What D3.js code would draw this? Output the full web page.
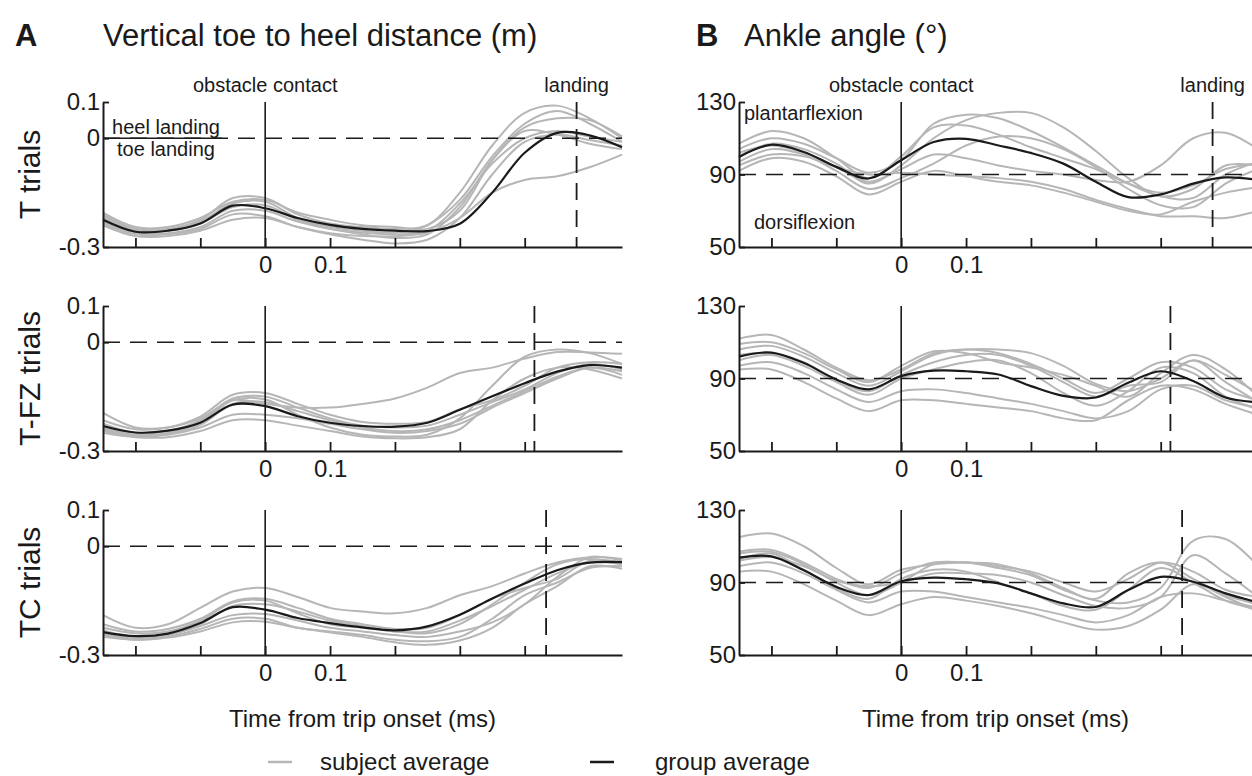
<!DOCTYPE html>
<meta charset="utf-8">

<!-- Load d3.js -->
<script src="https://d3js.org/d3.v7.min.js"></script>

<style>
  body { margin: 0; background: #fff; }
  text { font-family: "Liberation Sans", Arial, Helvetica, sans-serif; fill: #1a1a1a; }
</style>

<div id="my_dataviz"></div>

<script>

    // time axis (s from trip onset), shared by every curve
    var time = [-0.25, -0.2, -0.15, -0.1, -0.05, 0, 0.05, 0.1, 0.15, 0.2, 0.25, 0.3, 0.35, 0.4, 0.45, 0.5, 0.55];

    var rowNames = ["T trials", "T-FZ trials", "TC trials"];
    var landingTimes = [0.48, 0.415, 0.433];

    // A: vertical toe to heel distance (m), subject averages + group average
    var distT = [
      [-0.21, -0.25, -0.25, -0.225, -0.165, -0.165, -0.21, -0.235, -0.245, -0.25, -0.24, -0.15, -0.02, 0.07, 0.09, 0.055, 0.0],
      [-0.205, -0.245, -0.245, -0.22, -0.175, -0.17, -0.205, -0.225, -0.24, -0.245, -0.25, -0.2, -0.06, 0.03, 0.055, 0.05, 0.005],
      [-0.215, -0.25, -0.25, -0.23, -0.18, -0.175, -0.22, -0.245, -0.255, -0.26, -0.24, -0.17, -0.05, 0.04, 0.075, 0.04, -0.01],
      [-0.23, -0.26, -0.262, -0.245, -0.2, -0.2, -0.23, -0.25, -0.26, -0.265, -0.255, -0.18, -0.07, 0.0, 0.02, 0.005, -0.01],
      [-0.235, -0.265, -0.265, -0.25, -0.21, -0.215, -0.245, -0.265, -0.28, -0.29, -0.28, -0.22, -0.1, -0.01, 0.01, -0.005, -0.02],
      [-0.24, -0.27, -0.27, -0.255, -0.225, -0.22, -0.245, -0.262, -0.27, -0.27, -0.26, -0.22, -0.15, -0.115, -0.105, -0.08, -0.045],
      [-0.22, -0.255, -0.255, -0.235, -0.19, -0.185, -0.225, -0.25, -0.265, -0.275, -0.265, -0.19, -0.06, 0.02, 0.01, -0.015, -0.03]
    ];
    var distTMean = [-0.225, -0.258, -0.255, -0.235, -0.186, -0.193, -0.22, -0.239, -0.25, -0.255, -0.256, -0.236, -0.15, -0.04, 0.015, 0.008, -0.025];

    var distTFZ = [
      [-0.195, -0.235, -0.235, -0.21, -0.16, -0.17, -0.18, -0.18, -0.17, -0.155, -0.125, -0.085, -0.07, -0.045, -0.027, -0.028, -0.032],
      [-0.215, -0.24, -0.235, -0.205, -0.145, -0.14, -0.17, -0.2, -0.22, -0.225, -0.22, -0.185, -0.16, -0.12, -0.07, -0.055, -0.06],
      [-0.225, -0.25, -0.245, -0.215, -0.155, -0.15, -0.18, -0.21, -0.23, -0.235, -0.23, -0.2, -0.165, -0.13, -0.085, -0.06, -0.075],
      [-0.235, -0.255, -0.25, -0.22, -0.16, -0.158, -0.2, -0.235, -0.255, -0.26, -0.255, -0.21, -0.12, -0.04, -0.02, -0.03, -0.06],
      [-0.245, -0.26, -0.255, -0.235, -0.2, -0.2, -0.21, -0.225, -0.24, -0.25, -0.245, -0.225, -0.18, -0.14, -0.1, -0.07, -0.08],
      [-0.25, -0.262, -0.262, -0.245, -0.215, -0.215, -0.23, -0.245, -0.26, -0.265, -0.262, -0.24, -0.16, -0.1, -0.07, -0.075, -0.1],
      [-0.24, -0.258, -0.252, -0.228, -0.17, -0.165, -0.19, -0.215, -0.235, -0.245, -0.24, -0.215, -0.175, -0.135, -0.095, -0.07, -0.09]
    ];
    var distTFZMean = [-0.231, -0.249, -0.244, -0.222, -0.172, -0.176, -0.204, -0.222, -0.231, -0.233, -0.222, -0.186, -0.149, -0.113, -0.081, -0.063, -0.07];

    var distTC = [
      [-0.19, -0.225, -0.215, -0.17, -0.125, -0.115, -0.14, -0.17, -0.18, -0.185, -0.17, -0.135, -0.11, -0.075, -0.045, -0.03, -0.035],
      [-0.215, -0.235, -0.228, -0.2, -0.152, -0.145, -0.17, -0.2, -0.215, -0.228, -0.225, -0.19, -0.145, -0.115, -0.09, -0.04, -0.045],
      [-0.225, -0.24, -0.235, -0.205, -0.155, -0.15, -0.185, -0.215, -0.225, -0.235, -0.24, -0.215, -0.16, -0.1, -0.05, -0.035, -0.05],
      [-0.24, -0.255, -0.245, -0.22, -0.19, -0.187, -0.205, -0.225, -0.235, -0.245, -0.25, -0.235, -0.21, -0.16, -0.085, -0.03, -0.04],
      [-0.245, -0.258, -0.25, -0.228, -0.2, -0.2, -0.225, -0.235, -0.245, -0.258, -0.262, -0.25, -0.2, -0.135, -0.1, -0.06, -0.055],
      [-0.25, -0.258, -0.252, -0.235, -0.21, -0.208, -0.225, -0.238, -0.25, -0.265, -0.272, -0.26, -0.225, -0.16, -0.11, -0.055, -0.062],
      [-0.232, -0.25, -0.245, -0.215, -0.165, -0.16, -0.18, -0.205, -0.22, -0.235, -0.235, -0.205, -0.165, -0.12, -0.075, -0.045, -0.05]
    ];
    var distTCMean = [-0.237, -0.248, -0.241, -0.212, -0.168, -0.175, -0.198, -0.212, -0.224, -0.232, -0.221, -0.189, -0.144, -0.103, -0.066, -0.045, -0.044];

    // B: ankle angle (deg)
    var ankleT = [
      [104, 110, 107, 99, 91, 98, 118, 123, 121, 114, 105, 95, 85, 78, 77, 90, 97],
      [100, 107, 104, 96, 85, 95, 110, 120, 124, 124, 116, 103, 88, 78, 82, 95, 95],
      [107, 114, 110, 99, 88, 100, 116, 117, 112, 105, 99, 93, 85, 80, 84, 93, 96],
      [97, 104, 101, 92, 82, 88, 96, 106, 111, 110, 104, 94, 82, 73, 72, 85, 93],
      [92, 99, 97, 89, 79, 86, 92, 89, 86, 84, 80, 75, 70, 68, 75, 80, 83],
      [102, 106, 102, 94, 86, 93, 101, 99, 95, 92, 90, 87, 86, 95, 110, 113, 104],
      [95, 101, 100, 94, 90, 91, 90, 89, 88, 86, 82, 76, 71, 67, 67, 66, 70]
    ];
    var ankleTMean = [99.7, 106.4, 102.4, 94.2, 87.8, 97.9, 107.9, 109.7, 106, 101.9, 96, 86, 77.5, 79, 85, 88.4, 87];

    var ankleTFZ = [
      [112, 114, 106, 96, 89, 95, 104, 106, 106, 104, 97, 87, 83, 90, 100, 92, 82],
      [109, 110, 104, 95, 88, 97, 105, 104, 99, 96, 92, 86, 80, 93, 103, 95, 80],
      [106, 108, 102, 93, 86, 94, 103, 106, 104, 98, 90, 82, 90, 99, 96, 84, 78],
      [103, 104, 99, 89, 83, 92, 99, 103, 103, 97, 88, 80, 86, 88, 100, 88, 77],
      [97, 99, 93, 84, 77, 83, 84, 82, 79, 76, 72, 68, 72, 84, 86, 78, 74],
      [95, 95, 88, 79, 72, 78, 78, 76, 74, 72, 68, 67, 78, 86, 84, 76, 70],
      [100, 103, 97, 88, 81, 90, 95, 99, 100, 93, 82, 75, 83, 96, 93, 80, 73]
    ];
    var ankleTFZMean = [102.1, 104.3, 98.5, 89.5, 84, 91.3, 94.3, 94, 92.2, 85.8, 80.4, 79.5, 87.6, 94, 88.6, 79.5, 76.8];

    var ankleTC = [
      [115, 117, 110, 98, 89, 97, 100, 101, 99, 96, 90, 85, 92, 101, 96, 86, 82],
      [107, 108, 101, 92, 87, 95, 101, 101, 98, 94, 86, 80, 79, 87, 113, 114, 99],
      [106, 107, 100, 90, 83, 90, 100, 101, 100, 95, 87, 81, 95, 101, 92, 83, 78],
      [102, 104, 99, 91, 88, 90, 95, 95, 94, 90, 83, 77, 76, 82, 105, 95, 82],
      [99, 101, 95, 86, 79, 85, 85, 82, 79, 76, 72, 68, 72, 82, 84, 80, 76],
      [96, 96, 89, 80, 72, 78, 82, 80, 77, 73, 68, 64, 66, 75, 89, 82, 74],
      [103, 106, 97, 87, 81, 92, 97, 96, 90, 84, 77, 75, 86, 98, 90, 80, 75]
    ];
    var ankleTCMean = [103.7, 104.4, 96.7, 87.6, 83.1, 90.7, 92.7, 91.8, 89.5, 84, 78.5, 76.5, 85.8, 93.1, 90.4, 84, 79];

    var distSubjects = [distT, distTFZ, distTC];
    var distMeans = [distTMean, distTFZMean, distTCMean];
    var ankleSubjects = [ankleT, ankleTFZ, ankleTC];
    var ankleMeans = [ankleTMean, ankleTFZMean, ankleTCMean];

    // layout
    var width = 1252, height = 776;
    var rowTop = [102, 306, 510], rowH = 145;
    var grey = "#b6b6b6", dark = "#1a1a1a";

    var svg = d3.select("#my_dataviz")
      .append("svg")
        .attr("width", width)
        .attr("height", height);

    var xA = d3.scaleLinear().domain([-0.25, 0.55]).range([103, 622]);
    var xB = d3.scaleLinear().domain([-0.25, 0.55]).range([739, 1258]);

    function drawPanel(x, yDomain, yTicks, refY, subjects, mean, landing, r) {
      var top = rowTop[r];
      var y = d3.scaleLinear().domain(yDomain).range([top + rowH, top]);
      var g = svg.append("g");

      var line = d3.line()
          .x(function(d, i) { return x(time[i]); })
          .y(function(d) { return y(d); })
          .curve(d3.curveCatmullRom.alpha(0.5));

      // subject averages
      g.selectAll(".subj")
        .data(subjects)
        .enter()
        .append("path")
          .attr("d", line)
          .attr("fill", "none")
          .attr("stroke", grey)
          .attr("stroke-width", 2);

      // reference line (0 m / 90 deg)
      g.append("line")
          .attr("x1", x.range()[0]).attr("x2", x.range()[1])
          .attr("y1", y(refY)).attr("y2", y(refY))
          .attr("stroke", dark)
          .attr("stroke-width", 1.6)
          .attr("stroke-dasharray", "17,10");

      // obstacle contact
      g.append("line")
          .attr("x1", x(0)).attr("x2", x(0))
          .attr("y1", y(yDomain[1])).attr("y2", y(yDomain[0]))
          .attr("stroke", dark)
          .attr("stroke-width", 1.6);

      // landing
      g.append("line")
          .attr("x1", x(landing)).attr("x2", x(landing))
          .attr("y1", y(yDomain[1])).attr("y2", y(yDomain[0]))
          .attr("stroke", dark)
          .attr("stroke-width", 1.8)
          .attr("stroke-dasharray", "17,10");

      // group average
      g.append("path")
          .datum(mean)
          .attr("d", line)
          .attr("fill", "none")
          .attr("stroke", dark)
          .attr("stroke-width", 2.2);

      // X axis: inward ticks, only 0 and 0.1 labelled
      var xAxis = g.append("g")
          .attr("transform", "translate(0," + (top + rowH) + ")")
          .call(d3.axisBottom(x)
            .tickValues([-0.2, -0.1, 0, 0.1, 0.2, 0.3, 0.4])
            .tickSize(-9)
            .tickSizeOuter(0)
            .tickPadding(9)
            .tickFormat(function(d) { return d === 0 ? "0" : (d === 0.1 ? "0.1" : ""); }));

      // Y axis
      var yAxis = g.append("g")
          .attr("transform", "translate(" + x.range()[0] + ",0)")
          .call(d3.axisLeft(y)
            .tickValues(yTicks)
            .tickSize(-6)
            .tickSizeOuter(0)
            .tickPadding(3)
            .tickFormat(function(d) { return String(d); }));

      [xAxis, yAxis].forEach(function(a) {
        a.select(".domain").attr("stroke", dark).attr("stroke-width", 2);
        a.selectAll(".tick line").attr("stroke", dark).attr("stroke-width", 1.8);
        a.selectAll(".tick text")
          .attr("fill", dark)
          .style("font-size", "24px")
          .style("font-family", "'Liberation Sans', Arial, sans-serif");
      });

      return y;
    }

    for (var r = 0; r < 3; r++) {
      var yA = drawPanel(xA, [-0.3, 0.1], [-0.3, 0, 0.1], 0, distSubjects[r], distMeans[r], landingTimes[r], r);
      var yB = drawPanel(xB, [50, 130], [50, 90, 130], 90, ankleSubjects[r], ankleMeans[r], landingTimes[r], r);

      // row label
      svg.append("text")
          .attr("transform", "translate(40," + (rowTop[r] + rowH / 2) + ") rotate(-90)")
          .attr("text-anchor", "middle")
          .style("font-size", "30px")
          .text(rowNames[r]);

      if (r === 0) {
        [xA, xB].forEach(function(x) {
          svg.append("text")
              .attr("x", x(0)).attr("y", 92)
              .attr("text-anchor", "middle")
              .style("font-size", "20px")
              .text("obstacle contact");
          svg.append("text")
              .attr("x", x(landingTimes[0])).attr("y", 92)
              .attr("text-anchor", "middle")
              .style("font-size", "20px")
              .text("landing");
        });

        // heel / toe landing annotation
        svg.append("line")
            .attr("x1", xA(-0.25)).attr("x2", 222)
            .attr("y1", yA(0)).attr("y2", yA(0))
            .attr("stroke", dark).attr("stroke-width", 1.6);
        svg.append("text")
            .attr("x", 166).attr("y", yA(0) - 4)
            .attr("text-anchor", "middle")
            .style("font-size", "20px")
            .text("heel landing");
        svg.append("text")
            .attr("x", 166).attr("y", yA(0) + 18)
            .attr("text-anchor", "middle")
            .style("font-size", "20px")
            .text("toe landing");

        svg.append("text")
            .attr("x", 744).attr("y", yB(130) + 18)
            .style("font-size", "20px")
            .text("plantarflexion");
        svg.append("text")
            .attr("x", 754).attr("y", yB(50) - 18)
            .style("font-size", "20px")
            .text("dorsiflexion");
      }
    }

    // panel titles
    svg.append("text").attr("x", 15).attr("y", 46)
        .style("font-size", "31px").style("font-weight", "bold").text("A");
    svg.append("text").attr("x", xA.range()[0]).attr("y", 46)
        .style("font-size", "31px").text("Vertical toe to heel distance (m)");
    svg.append("text").attr("x", 696).attr("y", 46)
        .style("font-size", "31px").style("font-weight", "bold").text("B");
    svg.append("text").attr("x", 744).attr("y", 46)
        .style("font-size", "31px").text("Ankle angle (\u00b0)");

    // x axis titles
    [xA, xB].forEach(function(x) {
      svg.append("text")
          .attr("x", (x.range()[0] + x.range()[1]) / 2 - (x === xB ? 3 : 0))
          .attr("y", 727)
          .attr("text-anchor", "middle")
          .style("font-size", "24px")
          .text("Time from trip onset (ms)");
    });

    // legend
    var legend = [
      {label: "subject average", color: grey, x: 268, tx: 320},
      {label: "group average", color: dark, x: 590, tx: 655}
    ];
    legend.forEach(function(d) {
      svg.append("line")
          .attr("x1", d.x).attr("x2", d.x + 24)
          .attr("y1", 762).attr("y2", 762)
          .attr("stroke", d.color).attr("stroke-width", 2.5);
      svg.append("text")
          .attr("x", d.tx).attr("y", 770)
          .style("font-size", "24px")
          .text(d.label);
    });

</script>
